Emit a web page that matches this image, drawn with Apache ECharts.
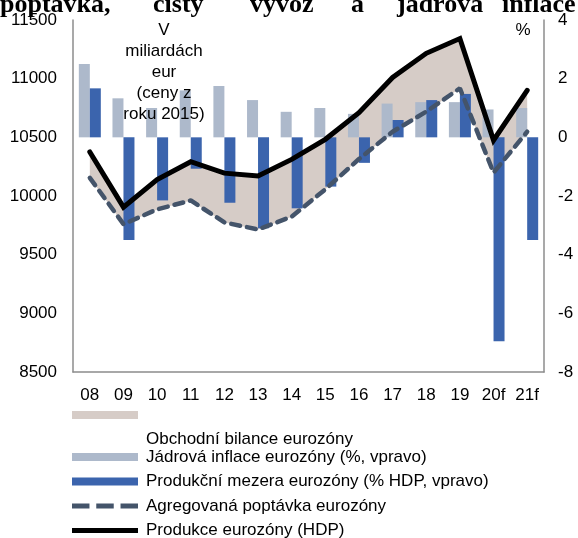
<!DOCTYPE html>
<html>
<head>
<meta charset="utf-8">
<script src="https://cdn.jsdelivr.net/npm/echarts@6/dist/echarts.min.js"></script>
<style>
  html, body { margin: 0; padding: 0; background: #fff; }
  #chart { width: 578px; height: 538px; }
</style>
</head>
<body>
<div id="chart"></div>
<script>
// data
const years = ['08', '09', '10', '11', '12', '13', '14', '15', '16', '17', '18', '19', '20f', '21f']
const produkce = [10375, 9905, 10140, 10292, 10195, 10170, 10312, 10483, 10710, 11010, 11216, 11342, 10475, 10900]
const poptavka = [10155, 9760, 9886, 9962, 9775, 9715, 9824, 10057, 10315, 10548, 10719, 10918, 10199, 10548]
const jadrovaInflace = [2.5, 1.33, 1.0, 1.6, 1.75, 1.27, 0.87, 1.0, 0.8, 1.15, 1.2, 1.2, 0.95, 1.0]
const produkcniMezera = [1.67, -3.5, -2.15, -1.07, -2.23, -3.1, -2.42, -1.68, -0.87, 0.59, 1.27, 1.48, -6.95, -3.5]
const leftTicks = { min: 8500, max: 11500, interval: 500 }
const rightTicks = { min: -8, max: 4, interval: 2 }

// obchodni bilance = rozdil produkce a poptavky (plocha mezi carami)
const bilance = produkce.map((v, i) => v - poptavka[i])

const FONT = 'Liberation Sans, Arial, sans-serif'
const axisGrey = '#8c8c8c'

const chart = echarts.init(document.getElementById('chart'))

const titleWords = [
  { t: 'poptávka,', x: 0 },
  { t: 'čistý', x: 153 },
  { t: 'vývoz', x: 250 },
  { t: 'a', x: 351 },
  { t: 'jádrová', x: 397 },
  { t: 'inflace', x: 502 }
]

// ikony legendy pro cary (carkovana a plna)
const dashIcon = 'path://M0,0h18v5h-18z M25,0h18v5h-18z M50,0h18v5h-18z'
const solidIcon = 'path://M0,0h68v5h-68z'

const option = {
  animation: false,
  grid: { left: 73, right: 34, top: 20, bottom: 166 },
  xAxis: {
    type: 'category',
    data: years,
    axisLine: { onZero: false, lineStyle: { color: axisGrey, width: 1.5 } },
    axisTick: { show: false },
    axisLabel: { color: '#000', fontFamily: FONT, fontSize: 17, margin: 15 }
  },
  yAxis: [
    {
      type: 'value',
      min: leftTicks.min,
      max: leftTicks.max,
      interval: leftTicks.interval,
      axisLine: { show: true, lineStyle: { color: axisGrey, width: 1.5 } },
      axisTick: { show: false },
      splitLine: { show: false },
      axisLabel: { color: '#000', fontFamily: FONT, fontSize: 17, margin: 16, formatter: v => String(v) }
    },
    {
      type: 'value',
      position: 'right',
      min: rightTicks.min,
      max: rightTicks.max,
      interval: rightTicks.interval,
      axisLine: { show: true, lineStyle: { color: axisGrey, width: 1.5 } },
      axisTick: { show: false },
      splitLine: { show: false },
      axisLabel: { color: '#000', fontFamily: FONT, fontSize: 17, margin: 14 }
    }
  ],
  legend: {
    orient: 'vertical',
    left: 72,
    top: 447,
    padding: 0,
    height: 120,
    itemWidth: 66,
    itemHeight: 8,
    itemGap: 4.5,
    textStyle: { color: '#000', fontFamily: FONT, fontSize: 17, lineHeight: 20, padding: [0, 0, 0, 3] },
    data: [
      { name: 'Jádrová inflace eurozóny (%, vpravo)', icon: 'rect' },
      { name: 'Produkční mezera eurozóny (% HDP, vpravo)', icon: 'rect' },
      { name: 'Agregovaná poptávka eurozóny', icon: dashIcon },
      { name: 'Produkce eurozóny (HDP)', icon: solidIcon }
    ]
  },
  graphic: [
    ...titleWords.map(w => ({
      type: 'text',
      left: w.x,
      top: -8,
      z: 100,
      style: { text: w.t, fill: '#000', font: 'bold 26px "Liberation Serif", "Times New Roman", serif' }
    })),
    {
      type: 'text',
      x: 164,
      y: 20,
      z: 100,
      style: {
        text: 'V\nmiliardách\neur\n(ceny z\nroku 2015)',
        fill: '#000',
        font: '17px ' + FONT,
        lineHeight: 21,
        align: 'center'
      }
    },
    {
      type: 'text',
      x: 523,
      y: 22,
      z: 100,
      style: { text: '%', fill: '#000', font: '17px ' + FONT, align: 'center' }
    },
    // prvni polozka legendy (ikona a text na zvlastnich radcich)
    {
      type: 'rect',
      shape: { x: 72, y: 411, width: 66, height: 8 },
      style: { fill: '#d6ccc7' }
    },
    {
      type: 'text',
      x: 146,
      y: 431,
      style: { text: 'Obchodní bilance eurozóny', fill: '#000', font: '17px ' + FONT }
    }
  ],
  series: [
    {
      name: 'base',
      type: 'line',
      stack: 'bal',
      data: poptavka,
      symbol: 'none',
      lineStyle: { width: 0, opacity: 0 },
      silent: true,
      z: 1
    },
    {
      name: 'Obchodní bilance eurozóny',
      type: 'line',
      stack: 'bal',
      data: bilance,
      symbol: 'none',
      lineStyle: { width: 0, opacity: 0 },
      areaStyle: { color: '#d6ccc7', opacity: 1 },
      silent: true,
      z: 1
    },
    {
      name: 'Jádrová inflace eurozóny (%, vpravo)',
      type: 'bar',
      yAxisIndex: 1,
      data: jadrovaInflace,
      barWidth: 11,
      barGap: '0%',
      itemStyle: { color: '#adb9cb' },
      z: 2
    },
    {
      name: 'Produkční mezera eurozóny (% HDP, vpravo)',
      type: 'bar',
      yAxisIndex: 1,
      data: produkcniMezera,
      barWidth: 11,
      barGap: '0%',
      itemStyle: { color: '#3b64ad' },
      z: 2
    },
    {
      name: 'Agregovaná poptávka eurozóny',
      type: 'line',
      data: poptavka,
      symbol: 'none',
      lineStyle: { color: '#44546a', width: 4.5, type: [9, 7], cap: 'round' },
      itemStyle: { color: '#44546a' },
      z: 3
    },
    {
      name: 'Produkce eurozóny (HDP)',
      type: 'line',
      data: produkce,
      symbol: 'none',
      lineStyle: { color: '#000', width: 5, cap: 'round', join: 'miter' },
      itemStyle: { color: '#000' },
      z: 4
    }
  ]
}

chart.setOption(option)
</script>
</body>
</html>
